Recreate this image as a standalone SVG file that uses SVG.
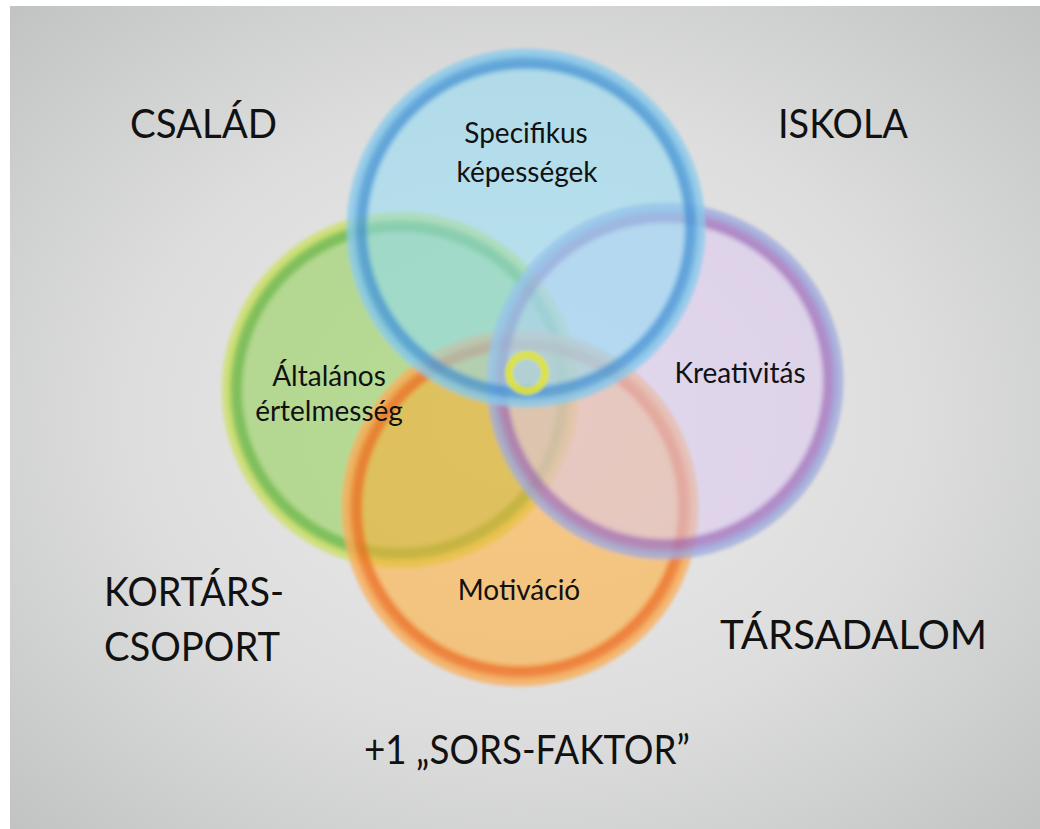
<svg xmlns="http://www.w3.org/2000/svg" width="1040" height="829" viewBox="0 0 1040 829">
<defs>
<radialGradient id="bg" cx="50%" cy="50%" r="70%">
<stop offset="0" stop-color="#ececec"/>
<stop offset="0.55" stop-color="#dddddd"/>
<stop offset="1" stop-color="#c2c4c4"/>
</radialGradient>
<radialGradient id="gBlue">
<stop offset="0" stop-color="#90daf4" stop-opacity="0.55"/>
<stop offset="0.86" stop-color="#90daf4" stop-opacity="0.55"/>
<stop offset="0.895" stop-color="#4b9ad8" stop-opacity="0.85"/>
<stop offset="0.925" stop-color="#519fda" stop-opacity="0.85"/>
<stop offset="0.955" stop-color="#7fc4ea" stop-opacity="0.85"/>
<stop offset="0.985" stop-color="#8ccbec" stop-opacity="0.7"/>
<stop offset="1" stop-color="#8ccbec" stop-opacity="0"/>
</radialGradient>
<radialGradient id="gGreen">
<stop offset="0" stop-color="#8ecf50" stop-opacity="0.55"/>
<stop offset="0.86" stop-color="#8ecf50" stop-opacity="0.55"/>
<stop offset="0.895" stop-color="#6cb844" stop-opacity="0.85"/>
<stop offset="0.925" stop-color="#74bc48" stop-opacity="0.85"/>
<stop offset="0.955" stop-color="#c4dc5c" stop-opacity="0.85"/>
<stop offset="0.985" stop-color="#cfe070" stop-opacity="0.7"/>
<stop offset="1" stop-color="#cfe070" stop-opacity="0"/>
</radialGradient>
<radialGradient id="gPurple">
<stop offset="0" stop-color="#dac8f0" stop-opacity="0.55"/>
<stop offset="0.86" stop-color="#dac8f0" stop-opacity="0.55"/>
<stop offset="0.895" stop-color="#a474c0" stop-opacity="0.8"/>
<stop offset="0.925" stop-color="#a47cc4" stop-opacity="0.8"/>
<stop offset="0.955" stop-color="#9aa4dc" stop-opacity="0.85"/>
<stop offset="0.985" stop-color="#a4acdc" stop-opacity="0.7"/>
<stop offset="1" stop-color="#a4acdc" stop-opacity="0"/>
</radialGradient>
<radialGradient id="gOrange">
<stop offset="0" stop-color="#ffab2f" stop-opacity="0.55"/>
<stop offset="0.86" stop-color="#ffab2f" stop-opacity="0.55"/>
<stop offset="0.895" stop-color="#f07020" stop-opacity="0.85"/>
<stop offset="0.925" stop-color="#f07828" stop-opacity="0.85"/>
<stop offset="0.955" stop-color="#f8a850" stop-opacity="0.85"/>
<stop offset="0.985" stop-color="#f8b060" stop-opacity="0.7"/>
<stop offset="1" stop-color="#f8b060" stop-opacity="0"/>
</radialGradient>
<filter id="soft" x="-10%" y="-10%" width="120%" height="120%">
<feGaussianBlur stdDeviation="1.5"/>
</filter>
</defs>
<style>
.big{font-family:Lato,"Liberation Sans",sans-serif;font-size:41px;fill:#111}
.lbl{font-family:Lato,"Liberation Sans",sans-serif;font-size:28px;fill:#111;text-anchor:middle}
</style>
<rect width="1040" height="829" fill="#ffffff"/>
<rect x="10" y="6" width="1030" height="823" fill="url(#bg)"/>
<g id="circles" filter="url(#soft)">
<circle id="green-circle" cx="400" cy="390" r="180" fill="url(#gGreen)"/>
<circle id="orange-circle" cx="520" cy="508" r="180" fill="url(#gOrange)"/>
<circle id="purple-circle" cx="665" cy="381" r="180" fill="url(#gPurple)"/>
<circle id="blue-circle" cx="526" cy="228" r="181" fill="url(#gBlue)"/>
<circle id="center-ring" cx="527" cy="373" r="18" fill="none" stroke="#dfe33a" stroke-width="8" opacity="0.9"/>
</g>
<g id="connectors"/>
<g id="node-specifikus"><text class="lbl" x="526" y="143">Specifikus</text><text class="lbl" x="527" y="182">képességek</text></g>
<g id="node-altalanos"><text class="lbl" x="329" y="386">Általános</text><text class="lbl" x="329" y="421">értelmesség</text></g>
<g id="node-kreativitas"><text class="lbl" x="740" y="383">Kreativitás</text></g>
<g id="node-motivacio"><text class="lbl" x="519" y="600">Motiváció</text></g>
<g id="label-csalad"><text class="big" x="130" y="138" textLength="147" lengthAdjust="spacingAndGlyphs">CSALÁD</text></g>
<g id="label-iskola"><text class="big" x="778" y="138" textLength="130" lengthAdjust="spacingAndGlyphs">ISKOLA</text></g>
<g id="label-kortars"><text class="big" x="104" y="606" textLength="180" lengthAdjust="spacingAndGlyphs">KORTÁRS-</text><text class="big" x="104" y="661" textLength="176" lengthAdjust="spacingAndGlyphs">CSOPORT</text></g>
<g id="label-tarsadalom"><text class="big" x="720" y="649" textLength="267" lengthAdjust="spacingAndGlyphs">TÁRSADALOM</text></g>
<g id="label-sors"><text class="big" x="364" y="764" textLength="326" lengthAdjust="spacingAndGlyphs">+1 „SORS-FAKTOR”</text></g>
</svg>
